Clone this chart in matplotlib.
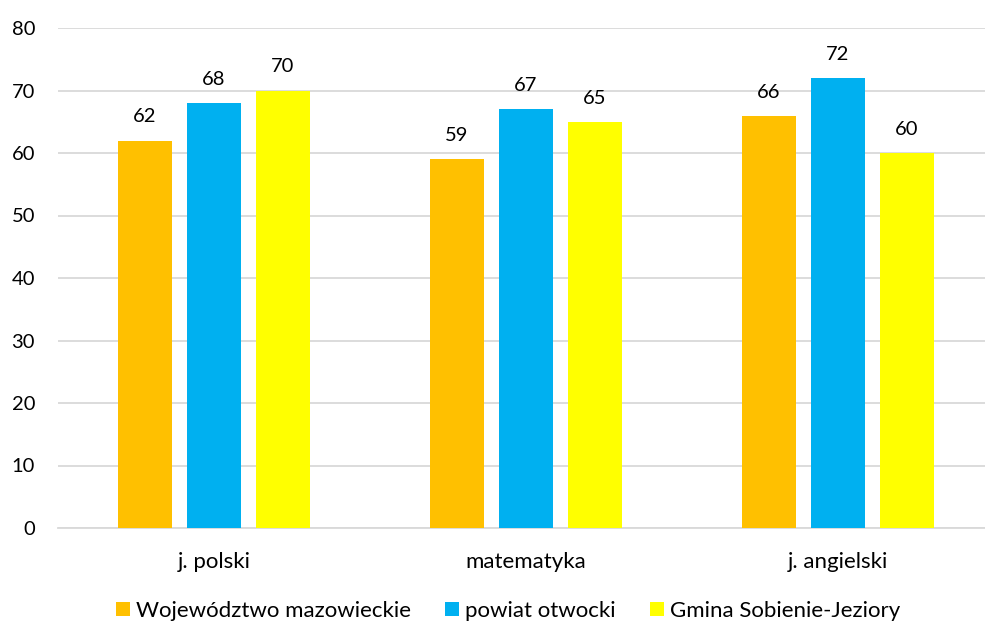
import matplotlib
matplotlib.use("Agg")
import matplotlib.pyplot as plt
import numpy as np

categories = ["j. polski", "matematyka", "j. angielski"]
series_names = ["Województwo mazowieckie", "powiat otwocki", "Gmina Sobienie-Jeziory"]
woj = [62, 59, 66]
powiat = [68, 67, 72]
gmina = [70, 65, 60]
colors = ["#FFC000", "#00B0F0", "#FFFF00"]
yticks = [0, 10, 20, 30, 40, 50, 60, 70, 80]

plt.rcParams['font.family'] = ['Lato', 'DejaVu Sans']

fig = plt.figure(figsize=(9.85, 6.21), dpi=100)
ax = fig.add_axes([58/985, 1-528/621, 936/985, 500/621])

x = np.arange(len(categories))
width = 0.173
offset = 0.221
for i, (vals, name, c) in enumerate(zip([woj, powiat, gmina], series_names, colors)):
    bars = ax.bar(x + (i-1)*offset, vals, width, color=c, label=name, zorder=3)
    for b, v in zip(bars, vals):
        ax.text(b.get_x()+b.get_width()/2, v + 2.4, str(v), ha='center', va='bottom',
                fontsize=14.5, color='#000000')

ax.set_xlim(-0.5, 2.5)
ax.set_ylim(0, 80)
ax.set_yticks(yticks)
ax.set_yticklabels([str(t) for t in yticks], fontsize=14.5)
ax.set_xticks(x)
ax.set_xticklabels(categories, fontsize=16)
ax.tick_params(axis='both', length=0)
ax.tick_params(axis='y', pad=16.5)
ax.tick_params(axis='x', pad=17)
ax.grid(axis='y', color='#D9D9D9', linewidth=1.3, zorder=0)
for s in ['top', 'right', 'left']:
    ax.spines[s].set_visible(False)
ax.spines['bottom'].set_color('#D9D9D9')
ax.spines['bottom'].set_linewidth(1.3)

fig.legend(loc='center', bbox_to_anchor=(508/985, 1-611/621), ncol=3, frameon=False,
           fontsize=16, handlelength=0.63, handleheight=0.63, handletextpad=0.27,
           columnspacing=1.55, borderaxespad=0, borderpad=0)

fig.savefig("out.png", dpi=100)
